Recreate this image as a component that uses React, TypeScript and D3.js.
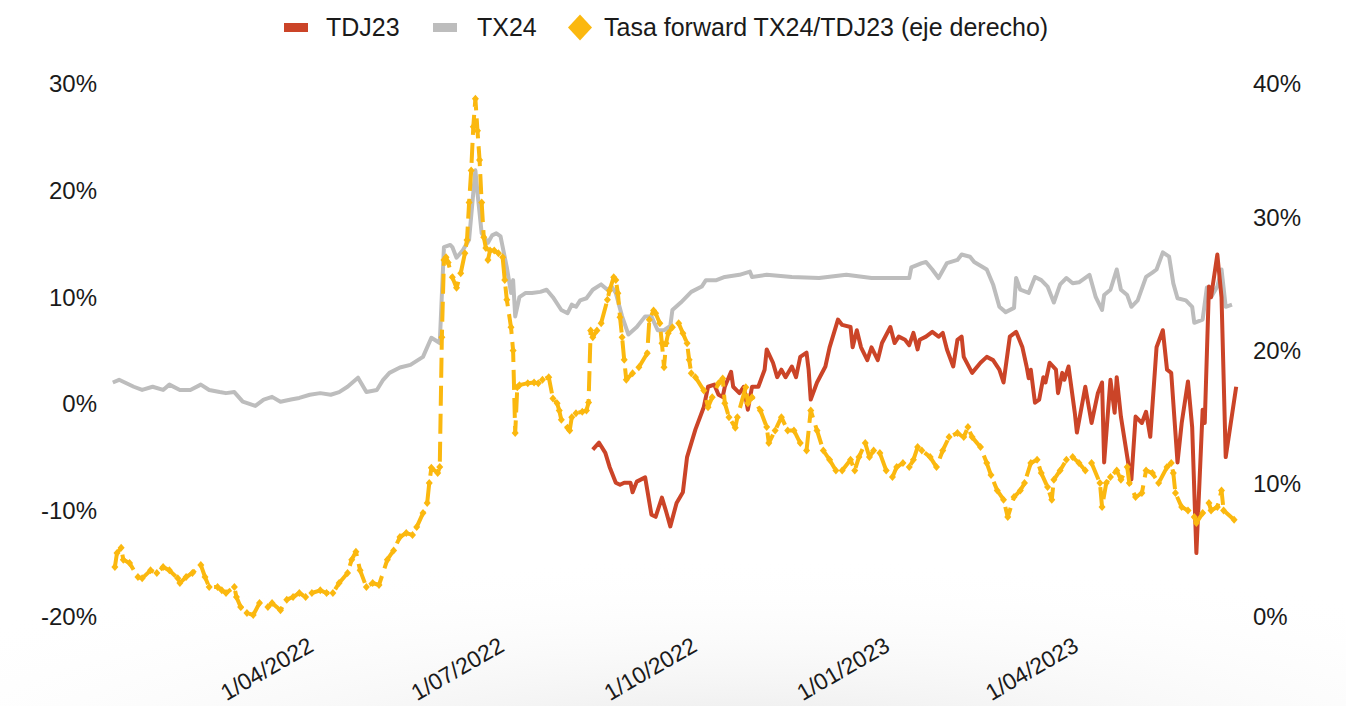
import React from "react";
import * as d3 from "d3";

const W = 1346;
const H = 706;
const FONT = "'Liberation Sans', Arial, Helvetica, sans-serif";

const leftTicks = [30, 20, 10, 0, -10, -20];
const rightTicks = [40, 30, 20, 10, 0];
const xTickLabels = ["1/04/2022", "1/07/2022", "1/10/2022", "1/01/2023", "1/04/2023"];
const xTickDates = ["2022-04-01", "2022-07-01", "2022-10-01", "2023-01-01", "2023-04-01"];

const seriesNames = ["TDJ23", "TX24", "Tasa forward TX24/TDJ23 (eje derecho)"];
const colors = { tdj23: "#CB4428", tx24: "#BDBDBD", fwd: "#FBB80F" };

const tx24: [string, number][] = [
["2021-12-26",2.0],["2021-12-29",2.25],["2022-01-05",1.6],["2022-01-09",1.3],["2022-01-14",1.6],["2022-01-19",1.3],["2022-01-22",1.8],["2022-01-27",1.3],["2022-02-01",1.3],["2022-02-06",1.8],["2022-02-10",1.3],["2022-02-15",1.1],["2022-02-18",1.0],["2022-02-22",1.1],["2022-02-26",0.2],["2022-03-04",-0.2],["2022-03-08",0.4],["2022-03-12",0.65],["2022-03-16",0.2],["2022-03-21",0.4],["2022-03-25",0.55],["2022-03-30",0.85],["2022-04-04",1.0],["2022-04-09",0.85],["2022-04-13",1.1],["2022-04-17",1.6],["2022-04-22",2.45],["2022-04-26",1.1],["2022-05-01",1.3],["2022-05-04",2.25],["2022-05-07",2.9],["2022-05-12",3.4],["2022-05-17",3.65],["2022-05-23",4.4],["2022-05-27",6.2],["2022-05-31",5.7],["2022-06-02",14.7],["2022-06-05",14.9],["2022-06-06",14.7],["2022-06-08",13.7],["2022-06-11",14.4],["2022-06-14",15.4],["2022-06-16",19.8],["2022-06-17",21.9],["2022-06-18",19.8],["2022-06-20",16.0],["2022-06-21",15.7],["2022-06-23",15.1],["2022-06-25",15.8],["2022-06-27",16.0],["2022-06-29",15.7],["2022-07-02",12.8],["2022-07-04",10.4],["2022-07-05",11.6],["2022-07-06",8.2],["2022-07-08",10.0],["2022-07-11",10.4],["2022-07-14",10.4],["2022-07-18",10.5],["2022-07-21",10.7],["2022-07-24",10.0],["2022-07-28",8.8],["2022-07-31",8.5],["2022-08-02",9.3],["2022-08-04",9.1],["2022-08-06",9.7],["2022-08-09",9.9],["2022-08-12",10.7],["2022-08-16",11.2],["2022-08-19",10.7],["2022-08-21",11.0],["2022-08-23",10.4],["2022-08-26",8.2],["2022-08-29",6.5],["2022-09-02",7.2],["2022-09-06",8.2],["2022-09-09",8.2],["2022-09-12",6.9],["2022-09-15",6.9],["2022-09-18",7.3],["2022-09-19",8.8],["2022-09-23",9.5],["2022-09-28",10.5],["2022-10-03",11.0],["2022-10-05",11.6],["2022-10-10",11.6],["2022-10-14",11.9],["2022-10-21",12.1],["2022-10-26",12.4],["2022-10-27",11.9],["2022-11-03",12.1],["2022-11-15",11.9],["2022-11-28",11.8],["2022-12-11",12.1],["2022-12-23",11.8],["2023-01-02",11.8],["2023-01-10",11.8],["2023-01-11",12.8],["2023-01-16",13.2],["2023-01-18",13.3],["2023-01-21",12.6],["2023-01-24",11.8],["2023-01-28",13.2],["2023-02-02",13.5],["2023-02-04",14.0],["2023-02-08",13.8],["2023-02-10",13.3],["2023-02-16",12.6],["2023-02-19",11.2],["2023-02-22",9.1],["2023-02-25",8.6],["2023-03-01",9.0],["2023-03-02",11.8],["2023-03-04",10.7],["2023-03-08",10.4],["2023-03-11",11.9],["2023-03-14",11.6],["2023-03-17",11.0],["2023-03-20",9.5],["2023-03-23",11.2],["2023-03-26",11.8],["2023-03-29",11.3],["2023-04-01",11.4],["2023-04-06",12.1],["2023-04-09",10.0],["2023-04-12",8.8],["2023-04-13",10.2],["2023-04-16",10.7],["2023-04-19",12.6],["2023-04-21",10.7],["2023-04-24",10.2],["2023-04-26",9.1],["2023-04-29",9.7],["2023-05-03",11.9],["2023-05-06",12.3],["2023-05-08",12.6],["2023-05-11",14.2],["2023-05-14",13.8],["2023-05-16",11.3],["2023-05-18",9.9],["2023-05-22",9.7],["2023-05-25",9.1],["2023-05-26",7.6],["2023-05-30",7.9],["2023-06-01",10.9],["2023-06-03",10.0],["2023-06-06",11.0],["2023-06-08",12.6],["2023-06-10",9.1],["2023-06-13",9.3]
];

const tdj23: [string, number][] = [
["2022-08-12",-4.3],["2022-08-15",-3.65],["2022-08-18",-4.6],["2022-08-20",-5.9],["2022-08-23",-7.4],["2022-08-25",-7.6],["2022-08-27",-7.4],["2022-08-30",-7.4],["2022-08-31",-8.3],["2022-09-02",-7.3],["2022-09-06",-6.9],["2022-09-09",-10.4],["2022-09-11",-10.6],["2022-09-14",-8.8],["2022-09-16",-10.1],["2022-09-18",-11.5],["2022-09-21",-9.3],["2022-09-24",-8.3],["2022-09-26",-5.0],["2022-09-30",-2.4],["2022-10-04",-0.3],["2022-10-06",1.6],["2022-10-09",1.8],["2022-10-11",0.85],["2022-10-13",0.65],["2022-10-14",1.6],["2022-10-17",3.0],["2022-10-18",1.6],["2022-10-21",1.0],["2022-10-23",1.6],["2022-10-25",-0.55],["2022-10-27",1.6],["2022-10-30",1.6],["2022-11-02",3.2],["2022-11-03",5.1],["2022-11-06",3.85],["2022-11-08",2.5],["2022-11-10",3.2],["2022-11-12",2.5],["2022-11-15",3.5],["2022-11-17",2.5],["2022-11-19",4.4],["2022-11-22",4.8],["2022-11-23",3.2],["2022-11-24",0.4],["2022-11-27",2.0],["2022-12-01",3.5],["2022-12-03",5.3],["2022-12-07",7.9],["2022-12-09",7.4],["2022-12-13",7.2],["2022-12-14",5.3],["2022-12-16",6.9],["2022-12-18",5.3],["2022-12-21",4.1],["2022-12-23",5.3],["2022-12-26",4.1],["2022-12-28",5.7],["2023-01-01",7.2],["2023-01-03",5.7],["2023-01-05",6.3],["2023-01-08",6.0],["2023-01-10",5.5],["2023-01-12",6.65],["2023-01-14",5.1],["2023-01-15",6.0],["2023-01-18",6.3],["2023-01-21",6.75],["2023-01-24",6.3],["2023-01-26",6.65],["2023-01-28",5.1],["2023-01-31",3.5],["2023-02-02",6.0],["2023-02-04",6.3],["2023-02-05",4.4],["2023-02-09",2.9],["2023-02-13",3.85],["2023-02-16",4.4],["2023-02-19",4.1],["2023-02-22",3.2],["2023-02-24",2.0],["2023-02-27",6.3],["2023-03-02",6.75],["2023-03-05",5.3],["2023-03-07",3.5],["2023-03-08",2.4],["2023-03-09",3.2],["2023-03-11",0.1],["2023-03-13",0.4],["2023-03-15",2.5],["2023-03-16",2.0],["2023-03-18",3.85],["2023-03-21",3.2],["2023-03-22",1.0],["2023-03-24",2.9],["2023-03-25",2.25],["2023-03-27",3.5],["2023-03-30",-0.85],["2023-03-31",-2.7],["2023-04-04",1.6],["2023-04-07",-1.8],["2023-04-10",1.0],["2023-04-12",2.0],["2023-04-13",-5.5],["2023-04-15",-0.3],["2023-04-16",2.25],["2023-04-18",-0.85],["2023-04-19",2.5],["2023-04-21",-1.2],["2023-04-25",-6.2],["2023-04-26",-7.1],["2023-04-28",-1.2],["2023-05-01",-1.8],["2023-05-03",-0.75],["2023-05-05",-3.1],["2023-05-08",5.3],["2023-05-11",6.9],["2023-05-13",3.2],["2023-05-15",2.9],["2023-05-18",-5.5],["2023-05-20",-1.8],["2023-05-23",2.1],["2023-05-25",-2.2],["2023-05-27",-14.0],["2023-05-30",-0.55],["2023-05-31",-1.8],["2023-06-02",11.0],["2023-06-03",10.0],["2023-06-06",14.0],["2023-06-08",10.0],["2023-06-10",-5.0],["2023-06-15",1.6]
];

const forward: [string, number][] = [
["2021-12-27",3.75],["2021-12-28",4.8],["2021-12-30",5.2],["2021-12-31",4.3],["2022-01-03",4.05],["2022-01-07",3.0],["2022-01-09",2.9],["2022-01-13",3.5],["2022-01-16",3.3],["2022-01-19",3.75],["2022-01-22",3.5],["2022-01-26",2.9],["2022-01-27",2.55],["2022-01-30",3.0],["2022-02-02",3.3],["2022-02-06",3.9],["2022-02-08",3.0],["2022-02-10",2.25],["2022-02-14",2.25],["2022-02-16",2.0],["2022-02-18",1.8],["2022-02-22",2.25],["2022-02-23",1.5],["2022-02-25",0.75],["2022-02-28",0.3],["2022-03-03",0.15],["2022-03-06",1.05],["2022-03-10",0.75],["2022-03-12",1.05],["2022-03-16",0.5],["2022-03-19",1.3],["2022-03-22",1.5],["2022-03-25",1.8],["2022-03-28",1.5],["2022-03-31",1.8],["2022-04-04",2.0],["2022-04-07",1.8],["2022-04-10",1.8],["2022-04-13",2.55],["2022-04-17",3.3],["2022-04-19",4.3],["2022-04-21",4.9],["2022-04-23",3.5],["2022-04-26",2.25],["2022-04-29",2.55],["2022-05-02",2.4],["2022-05-06",4.3],["2022-05-09",5.0],["2022-05-12",6.0],["2022-05-15",6.3],["2022-05-18",6.15],["2022-05-20",6.75],["2022-05-23",7.8],["2022-05-25",8.55],["2022-05-26",10.05],["2022-05-27",11.2],["2022-05-30",10.8],["2022-05-31",11.25],["2022-06-01",21.0],["2022-06-02",26.8],["2022-06-03",27.0],["2022-06-04",26.6],["2022-06-06",25.5],["2022-06-08",24.7],["2022-06-10",25.8],["2022-06-12",27.3],["2022-06-13",28.3],["2022-06-14",31.1],["2022-06-15",33.5],["2022-06-16",36.8],["2022-06-17",38.9],["2022-06-18",36.5],["2022-06-19",34.3],["2022-06-20",31.1],["2022-06-21",28.5],["2022-06-22",27.7],["2022-06-23",26.8],["2022-06-24",27.5],["2022-06-26",27.5],["2022-06-28",27.3],["2022-06-30",27.0],["2022-07-01",25.3],["2022-07-02",23.8],["2022-07-04",21.75],["2022-07-05",20.0],["2022-07-06",13.8],["2022-07-07",17.25],["2022-07-08",17.4],["2022-07-12",17.55],["2022-07-15",17.6],["2022-07-17",17.55],["2022-07-19",17.8],["2022-07-22",18.0],["2022-07-24",16.4],["2022-07-26",16.05],["2022-07-27",15.5],["2022-07-28",14.8],["2022-07-31",14.2],["2022-08-01",14.0],["2022-08-02",15.0],["2022-08-04",15.3],["2022-08-07",15.4],["2022-08-09",15.5],["2022-08-10",16.1],["2022-08-11",21.5],["2022-08-12",21.0],["2022-08-14",21.5],["2022-08-16",22.05],["2022-08-19",23.8],["2022-08-20",24.5],["2022-08-22",25.5],["2022-08-23",25.3],["2022-08-24",24.3],["2022-08-25",22.5],["2022-08-26",21.0],["2022-08-27",19.3],["2022-08-28",17.8],["2022-08-31",18.3],["2022-09-03",18.75],["2022-09-07",19.8],["2022-09-08",22.3],["2022-09-10",23.0],["2022-09-11",22.8],["2022-09-13",22.05],["2022-09-14",20.55],["2022-09-15",18.75],["2022-09-16",20.55],["2022-09-17",21.3],["2022-09-19",21.75],["2022-09-22",22.05],["2022-09-24",21.3],["2022-09-26",20.55],["2022-09-27",19.3],["2022-09-28",18.3],["2022-09-30",18.0],["2022-10-04",17.0],["2022-10-06",15.75],["2022-10-08",16.5],["2022-10-11",17.55],["2022-10-13",17.9],["2022-10-14",16.05],["2022-10-16",15.0],["2022-10-19",14.2],["2022-10-20",15.0],["2022-10-24",17.25],["2022-10-25",16.05],["2022-10-27",16.5],["2022-10-31",15.5],["2022-11-03",14.25],["2022-11-04",13.05],["2022-11-07",14.0],["2022-11-10",15.0],["2022-11-13",14.0],["2022-11-16",14.0],["2022-11-19",13.05],["2022-11-22",12.5],["2022-11-24",15.5],["2022-11-27",14.0],["2022-11-30",12.5],["2022-12-03",11.8],["2022-12-06",11.0],["2022-12-09",11.0],["2022-12-13",11.8],["2022-12-15",11.0],["2022-12-17",12.0],["2022-12-20",13.05],["2022-12-22",12.0],["2022-12-24",12.5],["2022-12-27",12.3],["2022-12-30",11.0],["2023-01-02",10.5],["2023-01-04",11.25],["2023-01-07",11.55],["2023-01-10",11.25],["2023-01-12",11.8],["2023-01-14",12.75],["2023-01-16",12.5],["2023-01-20",12.0],["2023-01-23",11.25],["2023-01-26",12.5],["2023-01-29",13.5],["2023-02-02",13.8],["2023-02-05",13.5],["2023-02-07",14.25],["2023-02-09",13.5],["2023-02-13",12.75],["2023-02-16",11.55],["2023-02-18",10.65],["2023-02-21",9.5],["2023-02-24",8.8],["2023-02-26",7.5],["2023-03-01",9.0],["2023-03-04",9.5],["2023-03-06",10.05],["2023-03-09",11.55],["2023-03-12",11.8],["2023-03-14",10.8],["2023-03-17",9.75],["2023-03-19",8.8],["2023-03-20",10.3],["2023-03-23",11.0],["2023-03-26",11.8],["2023-03-29",12.0],["2023-04-01",11.55],["2023-04-04",11.0],["2023-04-07",11.55],["2023-04-11",10.05],["2023-04-12",8.25],["2023-04-14",10.05],["2023-04-16",10.5],["2023-04-19",11.0],["2023-04-21",10.3],["2023-04-24",11.25],["2023-04-25",10.05],["2023-04-28",9.0],["2023-05-01",9.3],["2023-05-03",11.0],["2023-05-06",10.8],["2023-05-09",10.05],["2023-05-13",11.25],["2023-05-15",11.55],["2023-05-16",10.8],["2023-05-17",9.3],["2023-05-20",8.25],["2023-05-23",8.0],["2023-05-26",7.5],["2023-05-27",7.05],["2023-05-30",7.8],["2023-06-02",8.55],["2023-06-03",8.0],["2023-06-06",8.25],["2023-06-08",9.5],["2023-06-09",8.0],["2023-06-14",7.3]
];

const parse = d3.timeParse("%Y-%m-%d");

export default function App() {
  const x = d3
    .scaleTime()
    .domain([parse("2022-04-01")!, parse("2023-04-01")!])
    .range([314, 1079]);
  const yL = d3.scaleLinear().domain([-20, 30]).range([617, 84]);
  const yR = d3.scaleLinear().domain([0, 40]).range([617, 84]);

  const lineL = d3
    .line<[string, number]>()
    .x((d) => x(parse(d[0])!))
    .y((d) => yL(d[1]));
  const lineR = d3
    .line<[string, number]>()
    .x((d) => x(parse(d[0])!))
    .y((d) => yR(d[1]));

  const diamond = (cx: number, cy: number, hw: number, hh: number) =>
    `M${cx},${cy - hh}L${cx + hw},${cy}L${cx},${cy + hh}L${cx - hw},${cy}Z`;

  return (
    <svg
      width={W}
      height={H}
      style={{ position: "absolute", left: 0, top: 0, display: "block", background: "#fff" }}
      fontFamily={FONT}
    >
      <defs>
        <radialGradient id="bgshade" cx="0.55" cy="1.15" r="0.75" gradientTransform="scale(1,0.35) translate(0,1.86)">
          <stop offset="0" stopColor="#e9e9e9" />
          <stop offset="1" stopColor="#ffffff" stopOpacity="0" />
        </radialGradient>
      </defs>
      <rect x={0} y={0} width={W} height={H} fill="#fff" />
      <rect x={0} y={0} width={W} height={H} fill="url(#bgshade)" />

      {/* Legend */}
      <g fontSize={25} fill="#1a1a1a">
        <rect x={284} y={23} width={24} height={9} fill={colors.tdj23} />
        <text x={326} y={36}>{seriesNames[0]}</text>
        <rect x={433} y={23} width={24} height={9} fill={colors.tx24} />
        <text x={477} y={36}>{seriesNames[1]}</text>
        <path d={diamond(580, 27.5, 12, 13)} fill={colors.fwd} />
        <text x={604} y={36}>{seriesNames[2]}</text>
      </g>

      {/* Left axis labels */}
      <g fontSize={24} fill="#1a1a1a" textAnchor="end">
        {leftTicks.map((t) => (
          <text key={t} x={97} y={yL(t)} dy="0.35em">
            {t}%
          </text>
        ))}
      </g>
      {/* Right axis labels */}
      <g fontSize={24} fill="#1a1a1a" textAnchor="start">
        {rightTicks.map((t) => (
          <text key={t} x={1253} y={yR(t)} dy="0.35em">
            {t}%
          </text>
        ))}
      </g>
      {/* X labels */}
      <g fontSize={23} fill="#1a1a1a" textAnchor="end">
        {xTickDates.map((d, i) => {
          const tx = x(parse(d)!) + 1;
          const ty = 650;
          return (
            <text key={d} x={tx} y={ty} transform={`rotate(-30 ${tx} ${ty})`}>
              {xTickLabels[i]}
            </text>
          );
        })}
      </g>

      {/* Series */}
      <path d={lineL(tx24) || ""} fill="none" stroke={colors.tx24} strokeWidth={4} strokeLinejoin="round" />
      <path d={lineL(tdj23) || ""} fill="none" stroke={colors.tdj23} strokeWidth={4} strokeLinejoin="round" />
      <path
        d={lineR(forward) || ""}
        fill="none"
        stroke={colors.fwd}
        strokeWidth={4}
        strokeDasharray="20 8"
        strokeLinejoin="round"
      />
      <g fill={colors.fwd}>
        {forward.map((d, i) => (
          <path key={i} d={diamond(x(parse(d[0])!), yR(d[1]), 3.5, 4)} />
        ))}
      </g>
    </svg>
  );
}
